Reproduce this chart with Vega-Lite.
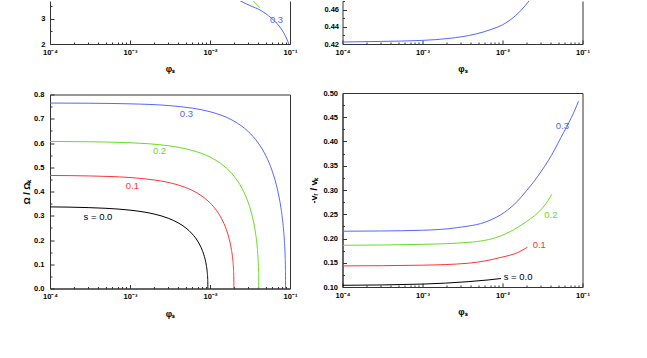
{
  "$schema": "https://vega.github.io/schema/vega-lite/v6.json",
  "background": "white",
  "padding": {"left": 22, "top": 0, "right": 0, "bottom": 0},
  "config": {
    "view": {"stroke": "#333", "strokeWidth": 1},
    "axis": {"labelFont": "Liberation Sans", "labelFontSize": 7.5, "labelFontWeight": "bold", "labelColor": "#000",
      "titleFont": "Liberation Sans", "titleFontSize": 9, "titleFontWeight": "bold", "titleColor": "#000",
      "domainColor": "#333", "tickColor": "#333", "grid": false, "tickWidth": 1, "ticks": true, "tickSize": -4, "labelOverlap": false, "tickCount": 100},
    "line": {"interpolate": "monotone"},
    "text": {"font": "Liberation Sans", "fontSize": 9.5}
  },
  "datasets": {
    "topLeft": [
      {"phi": 0.01778, "val": 3.92, "s": "0.3"}, {"phi": 0.0240, "val": 3.70, "s": "0.3"}, {"phi": 0.0316, "val": 3.52, "s": "0.3"},
      {"phi": 0.0441, "val": 3.31, "s": "0.3"}, {"phi": 0.0537, "val": 3.12, "s": "0.3"}, {"phi": 0.0646, "val": 2.90, "s": "0.3"},
      {"phi": 0.0824, "val": 2.47, "s": "0.3"}, {"phi": 0.0912, "val": 2.2, "s": "0.3"}, {"phi": 0.0968, "val": 2.0, "s": "0.3"},
      {"phi": 0.0282, "val": 3.95, "s": "0.2"}, {"phi": 0.0347, "val": 3.70, "s": "0.2"}, {"phi": 0.0420, "val": 3.44, "s": "0.2"}
    ],
    "topLeftLabels": [{"phi": 0.0678, "val": 2.96, "label": "0.3", "s": "0.3"}],
    "topRight": [
      {"phi": 0.0001, "val": 0.4223, "s": "0.3"}, {"phi": 0.0003, "val": 0.4230, "s": "0.3"}, {"phi": 0.001, "val": 0.4242, "s": "0.3"},
      {"phi": 0.00214, "val": 0.4265, "s": "0.3"}, {"phi": 0.00457, "val": 0.4315, "s": "0.3"}, {"phi": 0.00741, "val": 0.4373, "s": "0.3"},
      {"phi": 0.01, "val": 0.4423, "s": "0.3"}, {"phi": 0.01445, "val": 0.4527, "s": "0.3"}, {"phi": 0.0214, "val": 0.470, "s": "0.3"},
      {"phi": 0.0251, "val": 0.479, "s": "0.3"}
    ],
    "omega": [
      {"phi": 0.0001, "val": 0.3366, "s": "0.0"}, {"phi": 0.0003, "val": 0.3336, "s": "0.0"}, {"phi": 0.0005, "val": 0.3307, "s": "0.0"},
      {"phi": 0.001, "val": 0.3231, "s": "0.0"}, {"phi": 0.0015, "val": 0.3153, "s": "0.0"}, {"phi": 0.002, "val": 0.3071, "s": "0.0"},
      {"phi": 0.003, "val": 0.2898, "s": "0.0"}, {"phi": 0.004, "val": 0.2708, "s": "0.0"}, {"phi": 0.005, "val": 0.2495, "s": "0.0"},
      {"phi": 0.006, "val": 0.2250, "s": "0.0"}, {"phi": 0.007, "val": 0.1958, "s": "0.0"}, {"phi": 0.008, "val": 0.1578, "s": "0.0"},
      {"phi": 0.0085, "val": 0.1322, "s": "0.0"}, {"phi": 0.009, "val": 0.0957, "s": "0.0"}, {"phi": 0.0092, "val": 0.0725, "s": "0.0"},
      {"phi": 0.00935, "val": 0.0416, "s": "0.0"}, {"phi": 0.00938, "val": 0.0289, "s": "0.0"}, {"phi": 0.0094, "val": 0.0, "s": "0.0"},
      {"phi": 0.0001, "val": 0.4661, "s": "0.1"}, {"phi": 0.0003, "val": 0.4642, "s": "0.1"}, {"phi": 0.001, "val": 0.4575, "s": "0.1"},
      {"phi": 0.002, "val": 0.4476, "s": "0.1"}, {"phi": 0.004, "val": 0.4269, "s": "0.1"}, {"phi": 0.006, "val": 0.4046, "s": "0.1"},
      {"phi": 0.008, "val": 0.3802, "s": "0.1"}, {"phi": 0.01, "val": 0.3532, "s": "0.1"}, {"phi": 0.012, "val": 0.3227, "s": "0.1"},
      {"phi": 0.014, "val": 0.2872, "s": "0.1"}, {"phi": 0.016, "val": 0.2434, "s": "0.1"}, {"phi": 0.0175, "val": 0.2004, "s": "0.1"},
      {"phi": 0.0185, "val": 0.1616, "s": "0.1"}, {"phi": 0.0193, "val": 0.1152, "s": "0.1"}, {"phi": 0.0197, "val": 0.0742, "s": "0.1"},
      {"phi": 0.01985, "val": 0.0426, "s": "0.1"}, {"phi": 0.0199, "val": 0.0, "s": "0.1"},
      {"phi": 0.0001, "val": 0.6064, "s": "0.2"}, {"phi": 0.0003, "val": 0.6052, "s": "0.2"}, {"phi": 0.001, "val": 0.6010, "s": "0.2"},
      {"phi": 0.003, "val": 0.5886, "s": "0.2"}, {"phi": 0.006, "val": 0.5694, "s": "0.2"}, {"phi": 0.01, "val": 0.5420, "s": "0.2"},
      {"phi": 0.015, "val": 0.5047, "s": "0.2"}, {"phi": 0.02, "val": 0.4627, "s": "0.2"}, {"phi": 0.025, "val": 0.4140, "s": "0.2"},
      {"phi": 0.03, "val": 0.3547, "s": "0.2"}, {"phi": 0.034, "val": 0.2935, "s": "0.2"}, {"phi": 0.037, "val": 0.2304, "s": "0.2"},
      {"phi": 0.039, "val": 0.1665, "s": "0.2"}, {"phi": 0.040, "val": 0.1125, "s": "0.2"}, {"phi": 0.0404, "val": 0.0725, "s": "0.2"},
      {"phi": 0.04055, "val": 0.0416, "s": "0.2"}, {"phi": 0.0406, "val": 0.0, "s": "0.2"},
      {"phi": 0.0001, "val": 0.7647, "s": "0.3"}, {"phi": 0.0003, "val": 0.7640, "s": "0.3"}, {"phi": 0.001, "val": 0.7615, "s": "0.3"},
      {"phi": 0.003, "val": 0.7545, "s": "0.3"}, {"phi": 0.006, "val": 0.7437, "s": "0.3"}, {"phi": 0.01, "val": 0.7290, "s": "0.3"},
      {"phi": 0.02, "val": 0.6900, "s": "0.3"}, {"phi": 0.03, "val": 0.6475, "s": "0.3"}, {"phi": 0.04, "val": 0.6003, "s": "0.3"},
      {"phi": 0.05, "val": 0.5468, "s": "0.3"}, {"phi": 0.06, "val": 0.4839, "s": "0.3"}, {"phi": 0.07, "val": 0.4055, "s": "0.3"},
      {"phi": 0.077, "val": 0.3330, "s": "0.3"}, {"phi": 0.082, "val": 0.2613, "s": "0.3"}, {"phi": 0.085, "val": 0.1980, "s": "0.3"},
      {"phi": 0.087, "val": 0.1276, "s": "0.3"}, {"phi": 0.0877, "val": 0.0788, "s": "0.3"}, {"phi": 0.08795, "val": 0.0385, "s": "0.3"},
      {"phi": 0.088, "val": 0.0, "s": "0.3"}
    ],
    "omegaLabels": [
      {"phi": 0.00508, "val": 0.720, "label": "0.3", "s": "0.3"},
      {"phi": 0.00234, "val": 0.566, "label": "0.2", "s": "0.2"},
      {"phi": 0.00107, "val": 0.421, "label": "0.1", "s": "0.1"},
      {"phi": 0.000398, "val": 0.293, "label": "s = 0.0", "s": "0.0"}
    ],
    "vr": [
      {"phi": 0.0001, "val": 0.215, "s": "0.3"}, {"phi": 0.0003, "val": 0.2155, "s": "0.3"}, {"phi": 0.001, "val": 0.217, "s": "0.3"},
      {"phi": 0.00275, "val": 0.2225, "s": "0.3"}, {"phi": 0.0066, "val": 0.236, "s": "0.3"}, {"phi": 0.0106, "val": 0.254, "s": "0.3"},
      {"phi": 0.0155, "val": 0.2776, "s": "0.3"}, {"phi": 0.01995, "val": 0.2985, "s": "0.3"}, {"phi": 0.0251, "val": 0.319, "s": "0.3"},
      {"phi": 0.0305, "val": 0.3386, "s": "0.3"}, {"phi": 0.0372, "val": 0.360, "s": "0.3"}, {"phi": 0.0447, "val": 0.383, "s": "0.3"},
      {"phi": 0.0537, "val": 0.408, "s": "0.3"}, {"phi": 0.0624, "val": 0.428, "s": "0.3"}, {"phi": 0.0724, "val": 0.449, "s": "0.3"},
      {"phi": 0.0804, "val": 0.465, "s": "0.3"}, {"phi": 0.089, "val": 0.483, "s": "0.3"},
      {"phi": 0.0001, "val": 0.186, "s": "0.2"}, {"phi": 0.001, "val": 0.188, "s": "0.2"}, {"phi": 0.00372, "val": 0.192, "s": "0.2"},
      {"phi": 0.00955, "val": 0.2055, "s": "0.2"}, {"phi": 0.0155, "val": 0.223, "s": "0.2"}, {"phi": 0.02, "val": 0.235, "s": "0.2"},
      {"phi": 0.0251, "val": 0.247, "s": "0.2"}, {"phi": 0.0331, "val": 0.267, "s": "0.2"}, {"phi": 0.037, "val": 0.278, "s": "0.2"},
      {"phi": 0.0412, "val": 0.291, "s": "0.2"},
      {"phi": 0.0001, "val": 0.1435, "s": "0.1"}, {"phi": 0.001, "val": 0.145, "s": "0.1"}, {"phi": 0.00372, "val": 0.149, "s": "0.1"},
      {"phi": 0.00955, "val": 0.161, "s": "0.1"}, {"phi": 0.0155, "val": 0.171, "s": "0.1"}, {"phi": 0.0205, "val": 0.182, "s": "0.1"},
      {"phi": 0.0001, "val": 0.1035, "s": "0.0"}, {"phi": 0.001, "val": 0.106, "s": "0.0"}, {"phi": 0.00372, "val": 0.111, "s": "0.0"},
      {"phi": 0.0066, "val": 0.1145, "s": "0.0"}, {"phi": 0.0096, "val": 0.1175, "s": "0.0"}
    ],
    "vrLabels": [
      {"phi": 0.0562, "val": 0.432, "label": "0.3", "s": "0.3"},
      {"phi": 0.0402, "val": 0.248, "label": "0.2", "s": "0.2"},
      {"phi": 0.0288, "val": 0.186, "label": "0.1", "s": "0.1"},
      {"phi": 0.01567, "val": 0.120, "label": "s = 0.0", "s": "0.0"}
    ]
  },
  "spacing": 10.5,
  "hconcat": [
    {
      "spacing": 16.5,
      "vconcat": [
        {
          "width": 240, "height": 43,
          "view": {"stroke": null},
          "resolve": {"axis": {"y": "independent"}},
          "layer": [
            {
              "data": {"name": "topLeft"},
              "mark": {"type": "line", "clip": true, "strokeWidth": 1},
              "encoding": {
                "x": {"field": "phi", "type": "quantitative", "scale": {"type": "log", "domain": [0.0001, 0.1], "nice": false},
                  "axis": {"values": [0.0001,0.0002,0.0003,0.0004,0.0005,0.0006,0.0007,0.0008,0.0009,0.001,0.002,0.003,0.004,0.005,0.006,0.007,0.008,0.009,0.01,0.02,0.03,0.04,0.05,0.06,0.07,0.08,0.09,0.1],
                    "labelExpr": "datum.value < 0.00011 ? '10⁻⁴' : abs(datum.value-0.001) < 1e-9 ? '10⁻³' : abs(datum.value-0.01) < 1e-8 ? '10⁻²' : abs(datum.value-0.1) < 1e-7 ? '10⁻¹' : ''",
                    "tickDash": {"condition": {"test": "abs(log(datum.value)/LN10 - round(log(datum.value)/LN10)) < 0.001", "value": []}, "value": [2, 10]},
                    "labelFontSize": {"condition": {"test": "abs(log(datum.value)/LN10 - round(log(datum.value)/LN10)) < 0.001", "value": 7.5}, "value": 0.1},
                    "tickCount": 100, "labelOverlap": false, "labelFlush": false, "labelPadding": 8.5, "title": "φₛ", "titlePadding": 8}},
                "y": {"field": "val", "type": "quantitative", "scale": {"domain": [2, 3.7], "nice": false, "zero": false},
                  "axis": {"values": [2, 2.5, 3, 3.5], "title": null, "labelOverlap": false, "tickCount": 100,
                    "labelExpr": "abs(datum.value - round(datum.value)) < 0.001 ? format(datum.value, 'd') : ''",
                    "tickDash": {"condition": {"test": "abs(datum.value - round(datum.value)) < 0.001", "value": []}, "value": [2, 10]},
                    "labelFontSize": {"condition": {"test": "abs(datum.value - round(datum.value)) < 0.001", "value": 7.5}, "value": 0.1},
                    "labelPadding": 9}},
                "color": {"field": "s", "type": "nominal", "scale": {"domain": ["0.0", "0.1", "0.2", "0.3"], "range": ["#000000", "#ff3333", "#66dd22", "#5566ff"]}, "legend": null}
              }
            },
            {
              "data": {"name": "topLeftLabels"},
              "mark": {"type": "text", "align": "center", "baseline": "middle"},
              "encoding": {
                "x": {"field": "phi", "type": "quantitative", "scale": {"type": "log", "domain": [0.0001, 0.1], "nice": false}},
                "y": {"field": "val", "type": "quantitative", "axis": {"orient": "right", "labels": false, "ticks": false, "title": null, "domain": true}},
                "text": {"field": "label"},
                "color": {"field": "s", "type": "nominal", "scale": {"domain": ["0.0", "0.1", "0.2", "0.3"], "range": ["#000000", "#ff3333", "#66dd22", "#5566ff"]}, "legend": null}
              }
            }
          ]
        },
        {
          "width": 240, "height": 194,
          "layer": [
            {
              "data": {"name": "omega"},
              "mark": {"type": "line", "clip": true, "strokeWidth": 1},
              "encoding": {
                "x": {"field": "phi", "type": "quantitative", "scale": {"type": "log", "domain": [0.0001, 0.1], "nice": false},
                  "axis": {"values": [0.0001,0.0002,0.0003,0.0004,0.0005,0.0006,0.0007,0.0008,0.0009,0.001,0.002,0.003,0.004,0.005,0.006,0.007,0.008,0.009,0.01,0.02,0.03,0.04,0.05,0.06,0.07,0.08,0.09,0.1],
                    "labelExpr": "datum.value < 0.00011 ? '10⁻⁴' : abs(datum.value-0.001) < 1e-9 ? '10⁻³' : abs(datum.value-0.01) < 1e-8 ? '10⁻²' : abs(datum.value-0.1) < 1e-7 ? '10⁻¹' : ''",
                    "tickDash": {"condition": {"test": "abs(log(datum.value)/LN10 - round(log(datum.value)/LN10)) < 0.001", "value": []}, "value": [2, 10]},
                    "labelFontSize": {"condition": {"test": "abs(log(datum.value)/LN10 - round(log(datum.value)/LN10)) < 0.001", "value": 7.5}, "value": 0.1},
                    "tickCount": 100, "labelOverlap": false, "labelFlush": false, "labelPadding": 8, "title": "φₛ", "titlePadding": 9}},
                "y": {"field": "val", "type": "quantitative", "scale": {"domain": [0, 0.8], "nice": false},
                  "axis": {"values": [0,0.05,0.1,0.15,0.2,0.25,0.3,0.35,0.4,0.45,0.5,0.55,0.6,0.65,0.7,0.75,0.8], "title": "Ω / Ωₖ", "labelOverlap": false, "tickCount": 100,
                    "labelExpr": "abs(datum.value*10 - round(datum.value*10)) < 0.001 ? format(datum.value, '.1f') : ''",
                    "tickDash": {"condition": {"test": "abs(datum.value*10 - round(datum.value*10)) < 0.001", "value": []}, "value": [2, 10]},
                    "labelFontSize": {"condition": {"test": "abs(datum.value*10 - round(datum.value*10)) < 0.001", "value": 7.5}, "value": 0.1},
                    "labelPadding": 10, "titlePadding": 2}},
                "color": {"field": "s", "type": "nominal", "scale": {"domain": ["0.0", "0.1", "0.2", "0.3"], "range": ["#000000", "#ff3333", "#66dd22", "#5566ff"]}, "legend": null}
              }
            },
            {
              "data": {"name": "omegaLabels"},
              "mark": {"type": "text", "align": "center", "baseline": "middle"},
              "encoding": {
                "x": {"field": "phi", "type": "quantitative"},
                "y": {"field": "val", "type": "quantitative"},
                "text": {"field": "label"},
                "color": {"field": "s", "type": "nominal", "legend": null}
              }
            }
          ]
        }
      ]
    },
    {
      "spacing": 15,
      "vconcat": [
        {
          "width": 240, "height": 43,
          "view": {"stroke": null},
          "resolve": {"axis": {"y": "independent"}},
          "layer": [
            {
              "data": {"name": "topRight"},
              "mark": {"type": "line", "clip": true, "strokeWidth": 1},
              "encoding": {
                "x": {"field": "phi", "type": "quantitative", "scale": {"type": "log", "domain": [0.0001, 0.1], "nice": false},
                  "axis": {"values": [0.0001,0.0002,0.0003,0.0004,0.0005,0.0006,0.0007,0.0008,0.0009,0.001,0.002,0.003,0.004,0.005,0.006,0.007,0.008,0.009,0.01,0.02,0.03,0.04,0.05,0.06,0.07,0.08,0.09,0.1],
                    "labelExpr": "datum.value < 0.00011 ? '10⁻⁴' : abs(datum.value-0.001) < 1e-9 ? '10⁻³' : abs(datum.value-0.01) < 1e-8 ? '10⁻²' : abs(datum.value-0.1) < 1e-7 ? '10⁻¹' : ''",
                    "tickDash": {"condition": {"test": "abs(log(datum.value)/LN10 - round(log(datum.value)/LN10)) < 0.001", "value": []}, "value": [2, 10]},
                    "labelFontSize": {"condition": {"test": "abs(log(datum.value)/LN10 - round(log(datum.value)/LN10)) < 0.001", "value": 7.5}, "value": 0.1},
                    "tickCount": 100, "labelOverlap": false, "labelFlush": false, "labelPadding": 8.5, "title": "φₛ", "titlePadding": 8}},
                "y": {"field": "val", "type": "quantitative", "scale": {"domain": [0.42, 0.47], "nice": false, "zero": false},
                  "axis": {"values": [0.42, 0.43, 0.44, 0.45, 0.46, 0.47], "title": null, "labelOverlap": false, "tickCount": 100,
                    "labelExpr": "abs(datum.value*50 - round(datum.value*50)) < 0.001 ? format(datum.value, '.2f') : ''",
                    "tickDash": {"condition": {"test": "abs(datum.value*50 - round(datum.value*50)) < 0.001", "value": []}, "value": [2, 10]},
                    "labelFontSize": {"condition": {"test": "abs(datum.value*50 - round(datum.value*50)) < 0.001", "value": 7.5}, "value": 0.1},
                    "labelPadding": 8}},
                "color": {"field": "s", "type": "nominal", "scale": {"domain": ["0.0", "0.1", "0.2", "0.3"], "range": ["#000000", "#ff3333", "#66dd22", "#5566ff"]}, "legend": null}
              }
            },
            {
              "data": {"name": "topRight"},
              "mark": {"type": "line", "clip": true, "strokeWidth": 1, "opacity": 0},
              "encoding": {
                "x": {"field": "phi", "type": "quantitative"},
                "y": {"field": "val", "type": "quantitative", "axis": {"orient": "right", "labels": false, "ticks": false, "title": null, "domain": true}}
              }
            }
          ]
        },
        {
          "width": 240, "height": 194,
          "layer": [
            {
              "data": {"name": "vr"},
              "mark": {"type": "line", "clip": true, "strokeWidth": 1},
              "encoding": {
                "x": {"field": "phi", "type": "quantitative", "scale": {"type": "log", "domain": [0.0001, 0.1], "nice": false},
                  "axis": {"values": [0.0001,0.0002,0.0003,0.0004,0.0005,0.0006,0.0007,0.0008,0.0009,0.001,0.002,0.003,0.004,0.005,0.006,0.007,0.008,0.009,0.01,0.02,0.03,0.04,0.05,0.06,0.07,0.08,0.09,0.1],
                    "labelExpr": "datum.value < 0.00011 ? '10⁻⁴' : abs(datum.value-0.001) < 1e-9 ? '10⁻³' : abs(datum.value-0.01) < 1e-8 ? '10⁻²' : abs(datum.value-0.1) < 1e-7 ? '10⁻¹' : ''",
                    "tickDash": {"condition": {"test": "abs(log(datum.value)/LN10 - round(log(datum.value)/LN10)) < 0.001", "value": []}, "value": [2, 10]},
                    "labelFontSize": {"condition": {"test": "abs(log(datum.value)/LN10 - round(log(datum.value)/LN10)) < 0.001", "value": 7.5}, "value": 0.1},
                    "tickCount": 100, "labelOverlap": false, "labelFlush": false, "labelPadding": 8, "title": "φₛ", "titlePadding": 9}},
                "y": {"field": "val", "type": "quantitative", "scale": {"domain": [0.1, 0.5], "nice": false, "zero": false},
                  "axis": {"values": [0.1,0.125,0.15,0.175,0.2,0.225,0.25,0.275,0.3,0.325,0.35,0.375,0.4,0.425,0.45,0.475,0.5], "title": "-vᵣ / vₖ", "labelOverlap": false, "tickCount": 100,
                    "labelExpr": "abs(datum.value*20 - round(datum.value*20)) < 0.001 ? format(datum.value, '.2f') : ''",
                    "tickDash": {"condition": {"test": "abs(datum.value*20 - round(datum.value*20)) < 0.001", "value": []}, "value": [2, 10]},
                    "labelFontSize": {"condition": {"test": "abs(datum.value*20 - round(datum.value*20)) < 0.001", "value": 7.5}, "value": 0.1},
                    "labelPadding": 9, "titlePadding": 4}},
                "color": {"field": "s", "type": "nominal", "scale": {"domain": ["0.0", "0.1", "0.2", "0.3"], "range": ["#000000", "#ff3333", "#66dd22", "#5566ff"]}, "legend": null}
              }
            },
            {
              "data": {"name": "vrLabels"},
              "mark": {"type": "text", "align": "center", "baseline": "middle"},
              "encoding": {
                "x": {"field": "phi", "type": "quantitative"},
                "y": {"field": "val", "type": "quantitative"},
                "text": {"field": "label"},
                "color": {"field": "s", "type": "nominal", "legend": null}
              }
            }
          ]
        }
      ]
    }
  ]
}
